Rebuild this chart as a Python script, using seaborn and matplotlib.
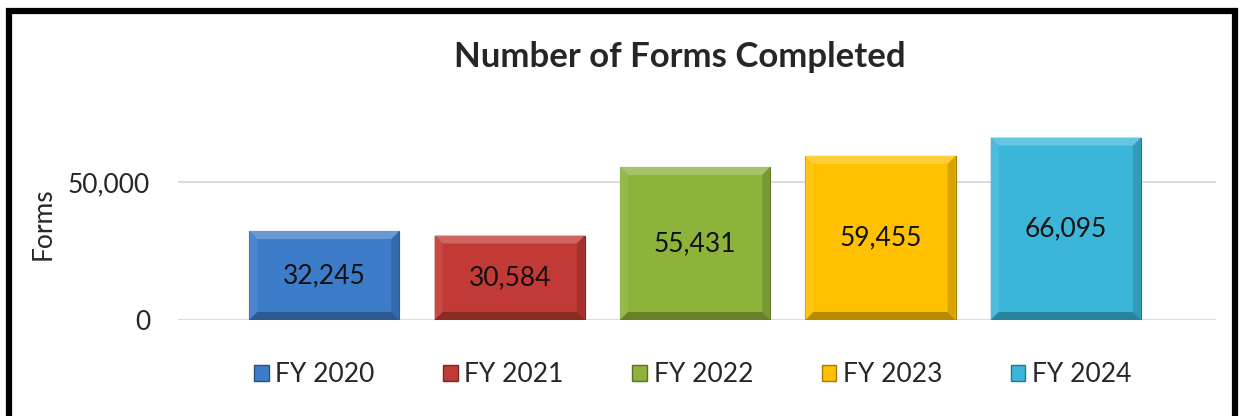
import numpy as np
import pandas as pd
import matplotlib
matplotlib.use("Agg")
import matplotlib.pyplot as plt
import matplotlib.patches as mpatches
from matplotlib.colors import to_rgb
from matplotlib.transforms import IdentityTransform
import seaborn as sns

# data
years = ["FY 2020", "FY 2021", "FY 2022", "FY 2023", "FY 2024"]
forms = [32245, 30584, 55431, 59455, 66095]
colors = ["#3D7CC9", "#C23A35", "#8DB33B", "#FFC000", "#3BB6D8"]

sns.set_style("white")
plt.rcParams['font.family'] = ['Lato', 'DejaVu Sans']

df = pd.DataFrame({"year": years, "forms": forms})

fig = plt.figure(figsize=(12.44, 4.16), dpi=100)
ax = fig.add_axes([0.143, 0.2308, 0.8345, 0.4644])

sns.barplot(data=df, x="year", y="forms", hue="year", palette=colors,
            width=0.81, legend=False, ax=ax, saturation=1)

ax.set_ylim(0, 70000)
ax.set_xlim(-0.79, 4.81)
ax.set_yticks([0, 50000])
ax.set_yticklabels(["0", "50,000"], fontsize=19)
ax.tick_params(axis="y", length=0, pad=20)
ax.set_xticks([])
ax.set_xlabel("")
ax.set_ylabel("Forms", fontsize=19)
ax.yaxis.set_label_coords(-0.118, 0.5)
ax.grid(axis="y", color="#D9D9D9", linewidth=1.3)
ax.set_axisbelow(True)
for s in ax.spines.values():
    s.set_visible(False)

fig.canvas.draw()


def shade(c, f):
    r = np.array(to_rgb(c))
    if f > 0:
        return tuple(r + (1 - r) * f)
    return tuple(r * (1 + f))


# bevel look on each bar, built from the bar geometry
b = 8
for p, c, v in zip(ax.patches, colors, forms):
    p.set_edgecolor(shade(c, -0.35))
    p.set_linewidth(0.8)
    bb = p.get_window_extent()
    x0, y0, x1, y1 = bb.x0, bb.y0, bb.x1, bb.y1
    parts = [
        ([(x0, y1), (x1, y1), (x1 - b, y1 - b), (x0 + b, y1 - b)], 0.22),
        ([(x0, y0), (x0, y1), (x0 + b, y1 - b), (x0 + b, y0 + b)], 0.08),
        ([(x1, y0), (x1, y1), (x1 - b, y1 - b), (x1 - b, y0 + b)], -0.15),
        ([(x0, y0), (x1, y0), (x1 - b, y0 + b), (x0 + b, y0 + b)], -0.28),
    ]
    for pts, f in parts:
        ax.add_patch(mpatches.Polygon(pts, closed=True, transform=IdentityTransform(),
                                      facecolor=shade(c, f), edgecolor="none", zorder=3))
    ax.text(p.get_x() + p.get_width() / 2, v / 2, f"{v:,}", ha="center", va="center",
            fontsize=19, color="#111111", zorder=4)

handles = [mpatches.Patch(facecolor=c, edgecolor=shade(c, -0.35), label=y)
           for c, y in zip(colors, years)]
fig.legend(handles=handles, loc="center", bbox_to_anchor=(0.557, 0.099), ncol=5,
           frameon=False, fontsize=19, handlelength=0.55, handleheight=0.55,
           handletextpad=0.25, columnspacing=2.6)

fig.text(0.5466, 0.863, "Number of Forms Completed", ha="center", va="center",
         fontsize=25, fontweight="bold")

fig.patches.append(mpatches.Rectangle((9 / 1244, -0.05), 1226 / 1244, 1.05 - 11 / 416,
                                      transform=fig.transFigure, fill=False,
                                      edgecolor="black", linewidth=4.5))

fig.savefig("out.png", dpi=100)
